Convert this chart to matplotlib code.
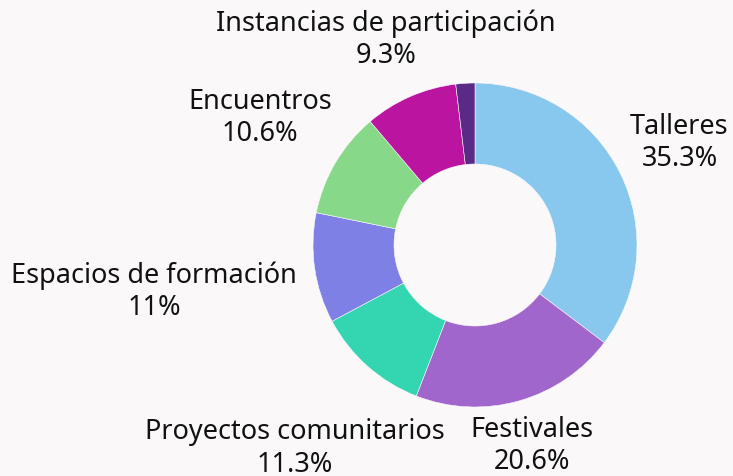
import numpy as np
import matplotlib.pyplot as plt

plt.rcParams['font.family'] = ['Noto Sans', 'DejaVu Sans']

# datos
categorias = ['Talleres', 'Festivales', 'Proyectos comunitarios',
              'Espacios de formación', 'Encuentros',
              'Instancias de participación', '']
valores = [35.3, 20.6, 11.3, 11.0, 10.6, 9.3, 1.9]
etiquetas_pct = ['35.3%', '20.6%', '11.3%', '11%', '10.6%', '9.3%', '']
colores = ['#88C8EE', '#A066CC', '#33D6B0', '#7F80E6', '#88D88A',
           '#BB14A0', '#5B2A86']
# distancia de cada etiqueta (en radios)
dist = [1.41, 1.29, 1.68, 2.0, 1.54, 1.38, 0]

fondo = '#FAF8F9'
fig = plt.figure(figsize=(7.33, 4.76), dpi=100, facecolor=fondo)
ax = fig.add_axes([0, 0, 1, 1])
ax.set_facecolor(fondo)

cunas, _ = ax.pie(valores, colors=colores, startangle=90, counterclock=False,
                  radius=1.0, wedgeprops=dict(width=0.5, edgecolor=fondo, linewidth=0.4))

for c, nombre, pct, d in zip(cunas, categorias, etiquetas_pct, dist):
    if not nombre:
        continue
    ang = np.deg2rad((c.theta1 + c.theta2) / 2)
    x, y = d * np.cos(ang), d * np.sin(ang)
    ax.text(x, y, nombre + '\n' + pct, ha='center', va='center',
            fontsize=19.5, linespacing=1.2, color='#111111')

ax.set_xlim(-475 / 162, (733 - 475) / 162)
ax.set_ylim(-231 / 162, 245 / 162)
ax.set_aspect('equal', adjustable='box')
ax.axis('off')

fig.savefig('out.png', dpi=100, facecolor=fondo)
